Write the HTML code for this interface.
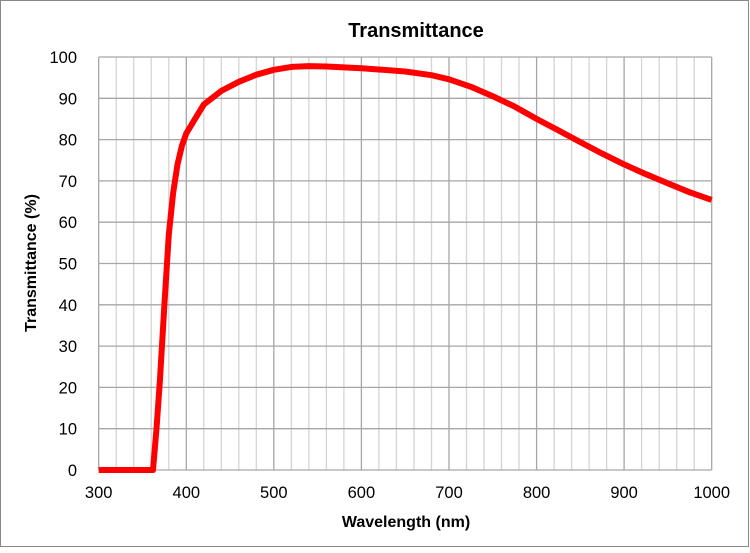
<!DOCTYPE html>
<html><head><meta charset="utf-8"><style>body{margin:0;background:#fff}</style></head><body>
<svg width="750" height="548" xmlns="http://www.w3.org/2000/svg" font-family="Liberation Sans, Arial, sans-serif">
<rect x="0.5" y="0.5" width="748" height="546" fill="#fff" stroke="#888" stroke-width="1"/>
<path fill="none" stroke="#d4d4d4" stroke-width="1.3" d="M116.2 57V470M133.7 57V470M151.2 57V470M168.8 57V470M203.8 57V470M221.3 57V470M238.8 57V470M256.3 57V470M291.4 57V470M308.9 57V470M326.4 57V470M343.9 57V470M378.9 57V470M396.4 57V470M414 57V470M431.5 57V470M466.5 57V470M484 57V470M501.5 57V470M519 57V470M554.1 57V470M571.6 57V470M589.1 57V470M606.6 57V470M641.6 57V470M659.2 57V470M676.7 57V470M694.2 57V470"/>
<path fill="none" stroke="#a6a6a6" stroke-width="1.3" d="M98.7 57V470M186.3 57V470M273.8 57V470M361.4 57V470M449 57V470M536.6 57V470M624.1 57V470M711.7 57V470M98.7 470H711.7M98.7 428.7H711.7M98.7 387.4H711.7M98.7 346.1H711.7M98.7 304.8H711.7M98.7 263.5H711.7M98.7 222.2H711.7M98.7 180.9H711.7M98.7 139.6H711.7M98.7 98.3H711.7M98.7 57H711.7"/>
<g font-size="16.5" text-anchor="end">
<text x="77" y="476">0</text><text x="77" y="434.7">10</text><text x="77" y="393.4">20</text><text x="77" y="352.1">30</text><text x="77" y="310.8">40</text><text x="77" y="269.5">50</text><text x="77" y="228.2">60</text><text x="77" y="186.9">70</text><text x="77" y="145.6">80</text><text x="77" y="104.3">90</text><text x="77" y="63">100</text>
</g>
<g font-size="16.5" text-anchor="middle">
<text x="98.7" y="498">300</text><text x="186.3" y="498">400</text><text x="273.8" y="498">500</text><text x="361.4" y="498">600</text><text x="449" y="498">700</text><text x="536.6" y="498">800</text><text x="624.1" y="498">900</text><text x="711.7" y="498">1000</text>
</g>
<polyline fill="none" stroke="#ff0000" stroke-width="6" stroke-linejoin="round" points="98.7,470 146.9,470 153,470 156.5,428.7 160,379.1 164.4,304.8 168.8,234.6 173.1,193.3 177.5,164.4 181.9,145.8 186.3,133.4 195,118.9 203.8,104.5 221.3,90.9 238.8,81.8 256.3,74.7 273.8,69.8 291.4,66.9 308.9,66.1 326.4,66.5 361.4,68.2 405.2,71.5 431.5,75.2 449,79.3 470.9,86.8 492.8,96.2 514.7,106.6 536.6,118.9 558.4,130.4 580.3,142.1 602.2,153.6 624.1,164.4 646,174.2 667.9,183.4 689.8,192.3 711.7,199.9"/>
<text x="416" y="37" font-size="20" font-weight="bold" text-anchor="middle">Transmittance</text>
<text x="406" y="527" font-size="16" font-weight="bold" text-anchor="middle">Wavelength (nm)</text>
<text transform="translate(36,263) rotate(-90)" font-size="16" font-weight="bold" text-anchor="middle">Transmittance (%)</text>
</svg>
</body></html>
